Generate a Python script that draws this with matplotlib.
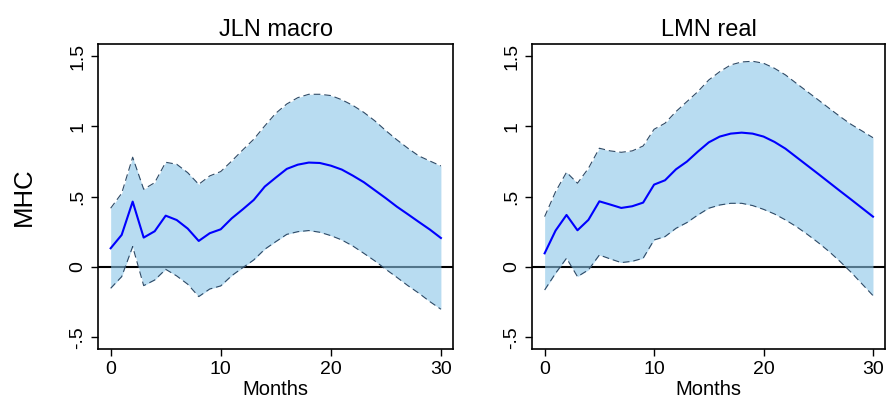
import matplotlib
matplotlib.use("Agg")
from matplotlib import pyplot as plt
import numpy as np

plt.rcParams['font.family'] = ['Liberation Sans', 'DejaVu Sans']

months = list(range(31))

# JLN macro
jln_mid = [0.133, 0.228, 0.465, 0.209, 0.254, 0.365, 0.334, 0.273, 0.185, 0.240,
           0.268, 0.346, 0.410, 0.477, 0.572, 0.636, 0.698, 0.728, 0.743, 0.740,
           0.721, 0.693, 0.650, 0.603, 0.546, 0.489, 0.429, 0.375, 0.320, 0.266, 0.206]
jln_hi = [0.418, 0.524, 0.781, 0.553, 0.600, 0.745, 0.731, 0.671, 0.588, 0.648,
          0.679, 0.754, 0.833, 0.909, 1.004, 1.094, 1.160, 1.205, 1.229, 1.229,
          1.220, 1.190, 1.150, 1.100, 1.040, 0.970, 0.905, 0.845, 0.790, 0.754, 0.719]
jln_lo = [-0.152, -0.069, 0.145, -0.133, -0.093, -0.017, -0.064, -0.123, -0.211, -0.157,
          -0.135, -0.062, -0.005, 0.050, 0.126, 0.180, 0.232, 0.251, 0.259, 0.247,
          0.223, 0.192, 0.149, 0.097, 0.043, -0.017, -0.074, -0.133, -0.187, -0.247, -0.301]

# LMN real
lmn_mid = [0.097, 0.259, 0.370, 0.261, 0.335, 0.467, 0.444, 0.420, 0.432, 0.458,
           0.586, 0.617, 0.695, 0.750, 0.821, 0.887, 0.928, 0.949, 0.956, 0.949,
           0.928, 0.890, 0.842, 0.782, 0.722, 0.662, 0.601, 0.540, 0.480, 0.419, 0.358]
lmn_hi = [0.358, 0.536, 0.674, 0.596, 0.702, 0.845, 0.826, 0.816, 0.826, 0.861,
          0.980, 1.023, 1.106, 1.177, 1.248, 1.331, 1.390, 1.438, 1.459, 1.464,
          1.450, 1.414, 1.367, 1.307, 1.248, 1.189, 1.129, 1.070, 1.015, 0.968, 0.920]
lmn_lo = [-0.164, -0.045, 0.062, -0.069, -0.021, 0.085, 0.057, 0.031, 0.040, 0.062,
          0.192, 0.216, 0.275, 0.316, 0.370, 0.418, 0.441, 0.453, 0.453, 0.437,
          0.410, 0.377, 0.335, 0.287, 0.232, 0.173, 0.109, 0.038, -0.038, -0.121, -0.204]

yticks = [-0.5, 0, 0.5, 1, 1.5]
ytick_labels = ["-.5", "0", ".5", "1", "1.5"]
xticks = [0, 10, 20, 30]

fig = plt.figure(figsize=(8.86, 4.01), dpi=100)
ax1 = fig.add_axes([0.1106, 0.1297, 0.4007, 0.7606])
ax2 = fig.add_axes([0.6005, 0.1297, 0.3984, 0.7606])

panels = [(ax1, "JLN macro", jln_mid, jln_hi, jln_lo),
          (ax2, "LMN real", lmn_mid, lmn_hi, lmn_lo)]

for ax, title, mid, hi, lo in panels:
    ax.axhline(0, color="black", lw=1.5, zorder=1)
    ax.fill_between(months, lo, hi, color="#8ac5e8", alpha=0.6, lw=0, zorder=2)
    ax.plot(months, hi, color="#2e4a66", lw=0.8, dashes=(6, 3.5), zorder=3)
    ax.plot(months, lo, color="#2e4a66", lw=0.8, dashes=(6, 3.5), zorder=3)
    ax.plot(months, mid, color="#0000ff", lw=1.5, zorder=4)
    ax.set_xlim(-1.15, 31.1)
    ax.set_ylim(-0.584, 1.587)
    ax.set_xticks(xticks)
    ax.set_yticks(yticks)
    ax.set_yticklabels(ytick_labels, rotation=90, va="center")
    ax.tick_params(labelsize=14, length=5, width=1)
    for s in ax.spines.values():
        s.set_linewidth(1.2)
    ax.set_title(title, fontsize=17, pad=6)
    ax.set_xlabel("Months", fontsize=14.5, labelpad=1.5)

ax1.set_ylabel("MHC", fontsize=18.5, labelpad=24)

plt.savefig("out.png", dpi=100)
